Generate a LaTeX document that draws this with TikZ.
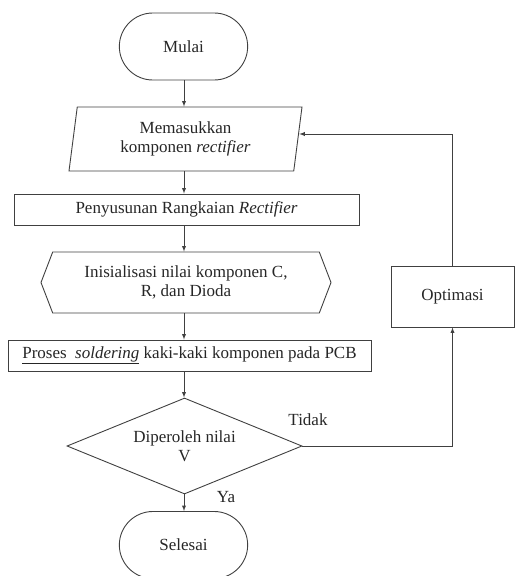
\documentclass[tikz,border=0pt]{standalone}
\usepackage{fontspec}
\setmainfont{Liberation Serif}
\usetikzlibrary{shapes.geometric, shapes.misc, shapes.symbols}

\tikzset{
    txt/.style={font=\fontsize{17}{18.5}\selectfont, align=center, text=black!85},
    terminal/.style={txt, draw, rounded rectangle, minimum width=135, minimum height=67},
    inputbox/.style={txt, draw, trapezium, trapezium left angle=78.5, trapezium right angle=101.5,
        trapezium stretches body, minimum width=233, minimum height=64},
    procbox/.style={txt, draw, rectangle, minimum height=31, inner sep=1pt},
    prepbox/.style={txt, draw, signal, signal to=west and east, signal pointer angle=138,
        minimum width=290, minimum height=61},
    decision/.style={txt, draw, diamond, aspect=2.4, minimum width=235, minimum height=96, inner sep=1pt},
}

\begin{document}
\begin{tikzpicture}[x=1pt, y=-1pt, >=latex, line width=0.9pt, draw=black!75]
    \useasboundingbox (0,0) rectangle (515,576);
    \coordinate(spine) at (184,0);

    \node[terminal](start) at (183.5,46.5) {Mulai};
    \node[inputbox](input) at (185.5,139) {Memasukkan\\komponen \textit{rectifier}};
    \node[procbox, minimum width=345](build) at (186.5,209.5) {Penyusunan Rangkaian \textit{Rectifier}};
    \node[prepbox](init) at (186,282.5) {Inisialisasi nilai komponen C,\\R, dan Dioda};
    \node[procbox, minimum width=363](solder) at (189.5,355.5)
        {\underline{Proses\ \ \textit{soldering}} kaki-kaki komponen pada PCB};
    \node[decision](check) at (184.5,446) {Diperoleh nilai\\V};
    \node[terminal](finish) at (183.5,545) {Selesai};
    \node[procbox, minimum width=123, minimum height=61](optim) at (452.5,296.5) {Optimasi};

    \node[txt](no) at (308,420) {Tidak};
    \node[txt](yes) at (226,497) {Ya};

    \foreach \k/\l in {start/input, input/build, build/init, init/solder, solder/check, check/finish}
        {\draw[->](\k.south -| spine)--(\l.north -| spine);}
    \draw[->](check.east) -| (optim.south);
    \draw[->](optim.north) |- ([xshift=1pt, yshift=5pt]input.east);
\end{tikzpicture}
\end{document}
